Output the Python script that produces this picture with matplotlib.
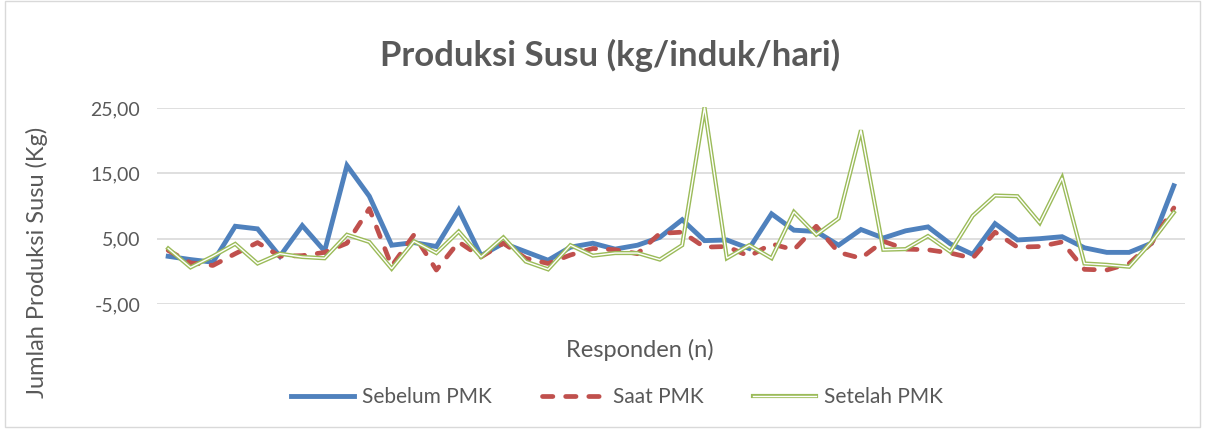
import matplotlib
matplotlib.use("Agg")
import matplotlib.pyplot as plt
from matplotlib.lines import Line2D
from matplotlib.legend_handler import HandlerTuple
from matplotlib.patches import Rectangle
import numpy as np

# produksi susu per responden (kg/induk/hari)
sebelum = [2.3, 1.8, 1.4, 6.9, 6.5, 2.3, 7.0, 3.1, 16.2, 11.5,
           4.0, 4.4, 3.8, 9.4, 2.4, 4.3, 3.0, 1.7, 3.7, 4.3,
           3.4, 4.0, 5.2, 7.9, 4.7, 4.8, 3.5, 8.8, 6.3, 6.1,
           4.0, 6.4, 5.1, 6.2, 6.8, 4.2, 2.6, 7.3, 4.8, 5.0,
           5.3, 3.6, 2.9, 2.9, 4.3, 13.1]
saat = [3.2, 1.3, 0.9, 2.7, 4.4, 2.3, 2.4, 2.9, 4.3, 9.6,
        0.8, 5.6, 0.2, 4.5, 2.2, 4.3, 2.0, 1.2, 2.5, 3.5,
        3.3, 2.7, 5.8, 6.0, 3.7, 3.8, 2.3, 4.2, 3.3, 6.9,
        2.9, 2.0, 4.6, 3.4, 3.3, 2.8, 2.0, 6.0, 3.7, 3.8,
        4.5, 0.3, 0.2, 1.2, 4.3, 9.7]
setelah = [3.5, 0.6, 2.3, 4.2, 1.2, 2.7, 2.2, 2.0, 5.6, 4.5,
           0.4, 4.6, 2.8, 6.1, 2.2, 5.2, 1.5, 0.3, 4.0, 2.4,
           2.8, 2.8, 1.8, 4.0, 25.1, 2.0, 4.0, 2.0, 9.1, 5.6,
           8.1, 21.6, 3.3, 3.4, 5.4, 3.0, 8.5, 11.6, 11.5, 7.4,
           14.3, 1.2, 1.0, 0.7, 4.5, 9.0]
yticks = [-5, 5, 15, 25]

BLUE = "#4F81BD"
RED = "#C0504D"
GREEN = "#9BBB59"
GRAY = "#595959"
FONT = "Lato"
DASH = (0, (2.2, 2.7))

x = np.arange(len(sebelum))

fig = plt.figure(figsize=(12.05, 4.32), dpi=100)
ax = fig.add_axes([157/1205, 1-304/432, 1028/1205, 196/432])

for y in yticks:
    ax.axhline(y, color="#D9D9D9", lw=1.2, zorder=0)

ax.plot(x, sebelum, color=BLUE, lw=3.5, solid_joinstyle="miter", zorder=2)
ax.plot(x, saat, color=RED, lw=3.4, linestyle=DASH,
        dash_capstyle="round", zorder=3)
ax.plot(x, setelah, color=GREEN, lw=3.0, solid_joinstyle="miter", zorder=4, clip_on=False)
ax.plot(x, setelah, color="white", lw=1.0, solid_joinstyle="miter", zorder=5, clip_on=False)

ax.set_xlim(-0.5, len(x) - 0.5)
ax.set_ylim(-5, 25)
ax.set_yticks(yticks)
ax.set_yticklabels([("%.2f" % v).replace(".", ",") for v in yticks],
                   fontsize=14, color=GRAY, family=FONT)
ax.set_xticks([])
ax.tick_params(axis="y", length=0, pad=12)
for s in ax.spines.values():
    s.set_visible(False)

fig.text(0.506, 1-55/432, "Produksi Susu (kg/induk/hari)", ha="center", va="center",
         fontsize=25, fontweight="bold", color=GRAY, family=FONT)
fig.text(640/1205, 1-350/432, "Responden (n)", ha="center", va="center",
         fontsize=17, color=GRAY, family=FONT)
fig.text(37/1205, 1-262/432, "Jumlah Produksi Susu (Kg)", ha="center", va="center",
         rotation=90, fontsize=17, color=GRAY, family=FONT)

h1 = Line2D([], [], color=BLUE, lw=3.5)
h2 = Line2D([], [], color=RED, lw=3.4, linestyle=DASH, dash_capstyle="round")
h3 = (Line2D([], [], color=GREEN, lw=3.0), Line2D([], [], color="white", lw=1.0))
leg = fig.legend([h1, h2, h3], ["Sebelum PMK", "Saat PMK", "Setelah PMK"],
                 handler_map={tuple: HandlerTuple(ndivide=1, pad=0)},
                 loc="center", bbox_to_anchor=(617/1205, 1-397/432), ncol=3,
                 frameon=False, handlelength=3.0, handletextpad=0.4,
                 columnspacing=2.4, prop={"family": FONT, "size": 15})
for t in leg.get_texts():
    t.set_color(GRAY)

fig.patches.append(Rectangle((0.004, 0.012), 0.992, 0.986, transform=fig.transFigure,
                             fill=False, edgecolor="#D9D9D9", lw=1))

fig.savefig("out.png", dpi=100)
